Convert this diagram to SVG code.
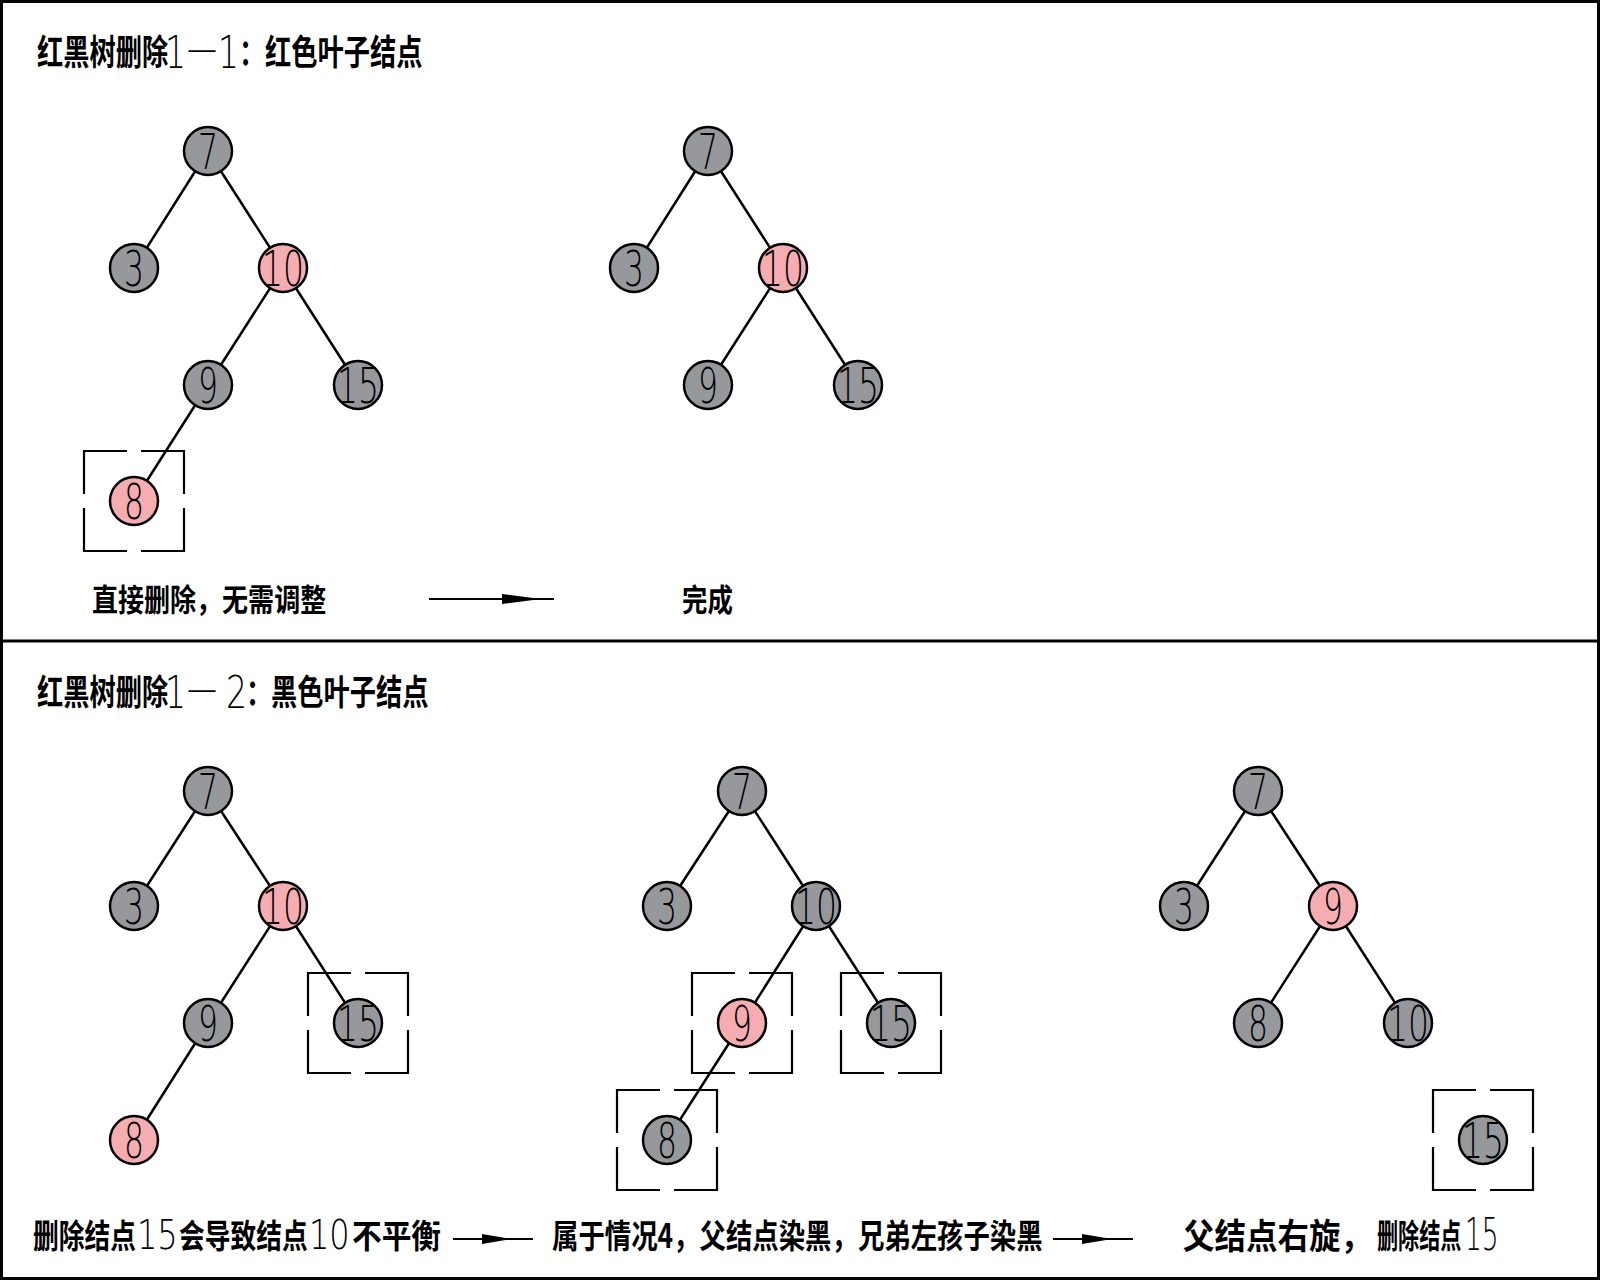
<svg xmlns="http://www.w3.org/2000/svg" width="1600" height="1280" viewBox="0 0 1600 1280">
<defs>
<style>
.frame{fill:none;stroke:#000;stroke-width:3}
.edge line{stroke:#000;stroke-width:2.5}
.nd circle{stroke:#000;stroke-width:2.5}
.b circle{fill:#97989c}
.r circle{fill:#f5adb1}
.nd text{font-family:"DejaVu Sans","Liberation Sans",sans-serif;font-weight:200;font-size:49px;text-anchor:middle;fill:#000}
.box{fill:none;stroke:#000;stroke-width:2.2;stroke-dasharray:86 14;stroke-dashoffset:43}
.cjk{font-family:"Noto Sans CJK SC","Noto Sans CJK JP",sans-serif;font-weight:700;fill:#000}
.num{font-family:"DejaVu Sans","Liberation Sans",sans-serif;font-weight:200}
.arr line{stroke:#000;stroke-width:2}
.arr polygon{fill:#000}
</style>
</defs>
<rect x="0" y="0" width="1600" height="1280" fill="#fff"/>
<rect class="frame" x="1.5" y="1.5" width="1597" height="1277"/>
<line x1="0" y1="641" x2="1600" y2="641" stroke="#000" stroke-width="3"/>

<text id="title1" class="cjk" font-size="35" transform="scale(0.75,1)"><tspan x="49.33" y="65">红黑树删除</tspan><tspan class="num" x="220" y="68" font-size="44">1</tspan><tspan class="num" x="249.33" y="62" font-size="40">—</tspan><tspan class="num" x="290.67" y="68" font-size="44">1</tspan><tspan x="318.67" y="65">：</tspan><tspan x="353.33" y="65">红色叶子结点</tspan></text>

<text id="title2" class="cjk" font-size="35" transform="scale(0.75,1)"><tspan x="49.33" y="705">红黑树删除</tspan><tspan class="num" x="220" y="708" font-size="44">1</tspan><tspan class="num" x="249.33" y="702" font-size="40">—</tspan><tspan class="num" x="301.33" y="708" font-size="44">2</tspan><tspan x="328" y="705">：</tspan><tspan x="361.33" y="705">黑色叶子结点</tspan></text>

<g id="connectors" class="edge">
<line x1="208" y1="151" x2="134" y2="268"/>
<line x1="208" y1="151" x2="283" y2="268"/>
<line x1="283" y1="268" x2="208" y2="385"/>
<line x1="283" y1="268" x2="358" y2="385"/>
<line x1="208" y1="385" x2="134" y2="501"/>
<line x1="708" y1="151" x2="634" y2="268"/>
<line x1="708" y1="151" x2="783" y2="268"/>
<line x1="783" y1="268" x2="708" y2="385"/>
<line x1="783" y1="268" x2="858" y2="385"/>
<line x1="208" y1="791" x2="134" y2="906"/>
<line x1="208" y1="791" x2="283" y2="906"/>
<line x1="283" y1="906" x2="208" y2="1023"/>
<line x1="283" y1="906" x2="358" y2="1023"/>
<line x1="208" y1="1023" x2="134" y2="1140"/>
<line x1="742" y1="791" x2="667" y2="906"/>
<line x1="742" y1="791" x2="816" y2="906"/>
<line x1="816" y1="906" x2="742" y2="1023"/>
<line x1="816" y1="906" x2="891" y2="1023"/>
<line x1="742" y1="1023" x2="667" y2="1140"/>
<line x1="1258" y1="791" x2="1184" y2="906"/>
<line x1="1258" y1="791" x2="1333" y2="906"/>
<line x1="1333" y1="906" x2="1258" y2="1023"/>
<line x1="1333" y1="906" x2="1408" y2="1023"/>
</g>

<g id="highlights">
<rect class="box" x="84" y="451" width="100" height="100"/>
<rect class="box" x="308" y="973" width="100" height="100"/>
<rect class="box" x="692" y="973" width="100" height="100"/>
<rect class="box" x="841" y="973" width="100" height="100"/>
<rect class="box" x="617" y="1090" width="100" height="100"/>
<rect class="box" x="1433" y="1090" width="100" height="100"/>
</g>

<g id="t1-7" class="nd b"><circle cx="208" cy="151" r="24"/><text x="208" y="169" textLength="20" lengthAdjust="spacingAndGlyphs">7</text></g>
<g id="t1-3" class="nd b"><circle cx="134" cy="268" r="24"/><text x="134" y="286" textLength="20" lengthAdjust="spacingAndGlyphs">3</text></g>
<g id="t1-10" class="nd r"><circle cx="283" cy="268" r="24"/><text x="283" y="286" textLength="42" lengthAdjust="spacingAndGlyphs">10</text></g>
<g id="t1-9" class="nd b"><circle cx="208" cy="385" r="24"/><text x="208" y="403" textLength="20" lengthAdjust="spacingAndGlyphs">9</text></g>
<g id="t1-15" class="nd b"><circle cx="358" cy="385" r="24"/><text x="358" y="403" textLength="42" lengthAdjust="spacingAndGlyphs">15</text></g>
<g id="t1-8" class="nd r"><circle cx="134" cy="501" r="24"/><text x="134" y="519" textLength="20" lengthAdjust="spacingAndGlyphs">8</text></g>

<g id="t2-7" class="nd b"><circle cx="708" cy="151" r="24"/><text x="708" y="169" textLength="20" lengthAdjust="spacingAndGlyphs">7</text></g>
<g id="t2-3" class="nd b"><circle cx="634" cy="268" r="24"/><text x="634" y="286" textLength="20" lengthAdjust="spacingAndGlyphs">3</text></g>
<g id="t2-10" class="nd r"><circle cx="783" cy="268" r="24"/><text x="783" y="286" textLength="42" lengthAdjust="spacingAndGlyphs">10</text></g>
<g id="t2-9" class="nd b"><circle cx="708" cy="385" r="24"/><text x="708" y="403" textLength="20" lengthAdjust="spacingAndGlyphs">9</text></g>
<g id="t2-15" class="nd b"><circle cx="858" cy="385" r="24"/><text x="858" y="403" textLength="42" lengthAdjust="spacingAndGlyphs">15</text></g>

<g id="t3-7" class="nd b"><circle cx="208" cy="791" r="24"/><text x="208" y="809" textLength="20" lengthAdjust="spacingAndGlyphs">7</text></g>
<g id="t3-3" class="nd b"><circle cx="134" cy="906" r="24"/><text x="134" y="924" textLength="20" lengthAdjust="spacingAndGlyphs">3</text></g>
<g id="t3-10" class="nd r"><circle cx="283" cy="906" r="24"/><text x="283" y="924" textLength="42" lengthAdjust="spacingAndGlyphs">10</text></g>
<g id="t3-9" class="nd b"><circle cx="208" cy="1023" r="24"/><text x="208" y="1041" textLength="20" lengthAdjust="spacingAndGlyphs">9</text></g>
<g id="t3-15" class="nd b"><circle cx="358" cy="1023" r="24"/><text x="358" y="1041" textLength="42" lengthAdjust="spacingAndGlyphs">15</text></g>
<g id="t3-8" class="nd r"><circle cx="134" cy="1140" r="24"/><text x="134" y="1158" textLength="20" lengthAdjust="spacingAndGlyphs">8</text></g>

<g id="t4-7" class="nd b"><circle cx="742" cy="791" r="24"/><text x="742" y="809" textLength="20" lengthAdjust="spacingAndGlyphs">7</text></g>
<g id="t4-3" class="nd b"><circle cx="667" cy="906" r="24"/><text x="667" y="924" textLength="20" lengthAdjust="spacingAndGlyphs">3</text></g>
<g id="t4-10" class="nd b"><circle cx="816" cy="906" r="24"/><text x="816" y="924" textLength="42" lengthAdjust="spacingAndGlyphs">10</text></g>
<g id="t4-9" class="nd r"><circle cx="742" cy="1023" r="24"/><text x="742" y="1041" textLength="20" lengthAdjust="spacingAndGlyphs">9</text></g>
<g id="t4-15" class="nd b"><circle cx="891" cy="1023" r="24"/><text x="891" y="1041" textLength="42" lengthAdjust="spacingAndGlyphs">15</text></g>
<g id="t4-8" class="nd b"><circle cx="667" cy="1140" r="24"/><text x="667" y="1158" textLength="20" lengthAdjust="spacingAndGlyphs">8</text></g>

<g id="t5-7" class="nd b"><circle cx="1258" cy="791" r="24"/><text x="1258" y="809" textLength="20" lengthAdjust="spacingAndGlyphs">7</text></g>
<g id="t5-3" class="nd b"><circle cx="1184" cy="906" r="24"/><text x="1184" y="924" textLength="20" lengthAdjust="spacingAndGlyphs">3</text></g>
<g id="t5-9" class="nd r"><circle cx="1333" cy="906" r="24"/><text x="1333" y="924" textLength="20" lengthAdjust="spacingAndGlyphs">9</text></g>
<g id="t5-8" class="nd b"><circle cx="1258" cy="1023" r="24"/><text x="1258" y="1041" textLength="20" lengthAdjust="spacingAndGlyphs">8</text></g>
<g id="t5-10" class="nd b"><circle cx="1408" cy="1023" r="24"/><text x="1408" y="1041" textLength="42" lengthAdjust="spacingAndGlyphs">10</text></g>
<g id="t5-15" class="nd b"><circle cx="1483" cy="1140" r="24"/><text x="1483" y="1158" textLength="42" lengthAdjust="spacingAndGlyphs">15</text></g>

<g id="captions">
<text class="cjk" x="109.52" y="611" font-size="31" transform="scale(0.84,1)">直接删除，无需调整</text>
<text class="cjk" x="831.7" y="611" font-size="31" transform="scale(0.82,1)">完成</text>
<text class="cjk" font-size="33" transform="scale(0.78,1)"><tspan x="42.31" y="1248">删除结点</tspan><tspan class="num" x="175.64" y="1249" font-size="41">15</tspan><tspan x="229.49" y="1248">会导致结点</tspan><tspan class="num" x="396.15" y="1249" font-size="41">10</tspan></text>
<text class="cjk" x="391.1" y="1248" font-size="33" transform="scale(0.9,1)">不平衡</text>
<text class="cjk" x="690" y="1248" font-size="33" transform="scale(0.8,1)">属于情况4，父结点染黑，兄弟左孩子染黑</text>
<text class="cjk" x="1314.44" y="1249" font-size="35" transform="scale(0.9,1)">父结点右旋，</text>
<text class="cjk" x="2151.56" y="1248" font-size="33" transform="scale(0.64,1)">删除结点</text>
<text class="num" x="2441.67" y="1250" font-size="44" transform="scale(0.6,1)">15</text>
</g>

<g id="arrows" class="arr">
<line x1="429" y1="599" x2="554" y2="599"/>
<polygon points="502,594 541,599 502,604"/>
<line x1="453" y1="1239" x2="533" y2="1239"/>
<polygon points="482,1234 512,1239 482,1244"/>
<line x1="1053" y1="1239" x2="1133" y2="1239"/>
<polygon points="1082,1234 1112,1239 1082,1244"/>
</g>
</svg>
